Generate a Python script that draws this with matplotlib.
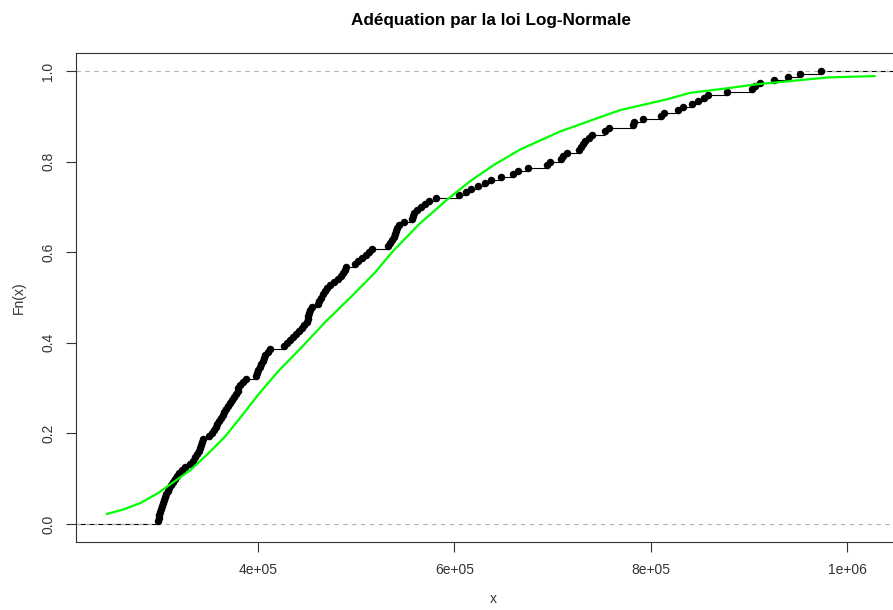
import matplotlib
matplotlib.use('Agg')
import matplotlib.pyplot as plt
import numpy as np

plt.rcParams['font.family'] = ['Liberation Sans', 'DejaVu Sans']

# sorted sample (in thousands)
sample_k = [298.5, 299, 299.5, 300, 301, 302, 303, 304.5, 305.5, 306.5,
            308, 309.5, 311, 313, 315, 317, 319.5, 322, 325.5, 330.5,
            334, 336, 338, 339.5, 340.5, 341.5, 342.5, 343.5, 350, 353.5,
            355, 357, 358.5, 360, 362, 364, 365.5, 367.5, 369.5, 371.5,
            373.5, 375.5, 377, 379, 380, 381.5, 384.5, 387.5, 397.5, 398.5,
            400, 401.5, 403, 404.5, 405.5, 407, 410, 412, 426, 429.5,
            432.5, 435.5, 438.5, 441.5, 444.5, 447, 450, 450.5, 451, 452,
            452.5, 455, 460.5, 462.5, 464.5, 466.5, 468.5, 470.5, 473.5, 477,
            481, 484, 486.5, 488, 490, 499, 502, 505.5, 510, 513,
            515.5, 532, 534.5, 536.5, 538, 539, 540, 541, 543.5, 549,
            557, 557.5, 559, 562, 565.5, 570, 574.5, 581, 605, 612,
            617, 624, 631, 637, 647, 660, 665, 675, 694, 697.5,
            708.5, 710.5, 714.5, 727, 729, 730.5, 733, 737, 740.5, 753,
            757, 782, 782.5, 792, 810.5, 813, 828, 833, 842, 848,
            854.5, 858, 878, 903.5, 906, 911, 925, 940, 952, 973]

# fitted log-normal cdf (green curve)
fit_x_k = [246, 263, 280, 298, 313, 331, 348, 366, 382, 400, 420, 443, 468, 494,
           519, 538, 565, 593, 616, 641, 667, 708, 748, 769, 817, 840, 874,
           908, 942, 980, 1028]
fit_F = [0.022, 0.032, 0.046, 0.068, 0.091, 0.119, 0.153, 0.192, 0.235, 0.285, 0.336,
         0.387, 0.445, 0.500, 0.555, 0.604, 0.664, 0.717, 0.757, 0.794, 0.827,
         0.867, 0.898, 0.914, 0.938, 0.952, 0.961, 0.971, 0.978, 0.986, 0.989]

xs = np.array(sample_k) * 1000
n = len(xs)
Fn = np.arange(1, n + 1) / n
xmin, xmax = 214500, 1065000

fig = plt.figure(figsize=(8.93, 6.10), dpi=100)
ax = fig.add_axes([76/893, 68/610, 835/893, 489/610])

# horizontal steps of the ecdf
ax.hlines(0, xmin, xs[0], color='black', lw=0.8)
ax.hlines(Fn[:-1], xs[:-1], xs[1:], color='black', lw=0.8)
ax.hlines(1, xs[-1], xmax, color='black', lw=0.8)
ax.axhline(0, color='#b3b3b3', ls=(0, (4, 4)), lw=0.8)
ax.axhline(1, color='#b3b3b3', ls=(0, (4, 4)), lw=0.8)
ax.plot(xs, Fn, 'o', color='black', markersize=5.4, markeredgewidth=0)

ax.plot(np.array(fit_x_k) * 1000, fit_F, color='#00ff00', lw=1.6)

ax.set_xlim(xmin, xmax)
ax.set_ylim(-0.04, 1.04)
ax.set_xticks([400000, 600000, 800000, 1000000])
ax.set_xticklabels(['4e+05', '6e+05', '8e+05', '1e+06'])
ax.set_yticks([0, 0.2, 0.4, 0.6, 0.8, 1.0])
ax.set_yticklabels(['0.0', '0.2', '0.4', '0.6', '0.8', '1.0'], rotation=90, va='center')
ax.tick_params(length=7, width=0.8, color='#333333', labelcolor='#333333', labelsize=10, pad=8)
ax.spines['right'].set_visible(False)
for s in ['left', 'top', 'bottom']:
    ax.spines[s].set_color('#333333')
    ax.spines[s].set_linewidth(0.8)

ax.set_xlabel('x', fontsize=10, color='#333333', labelpad=11)
ax.set_ylabel('Fn(x)', fontsize=10, color='#333333', labelpad=11)
fig.text(491/893, 1 - 20/610, 'Adéquation par la loi Log-Normale', ha='center', va='center',
         fontsize=12.3, fontweight='bold')

fig.savefig('out.png', dpi=100)
